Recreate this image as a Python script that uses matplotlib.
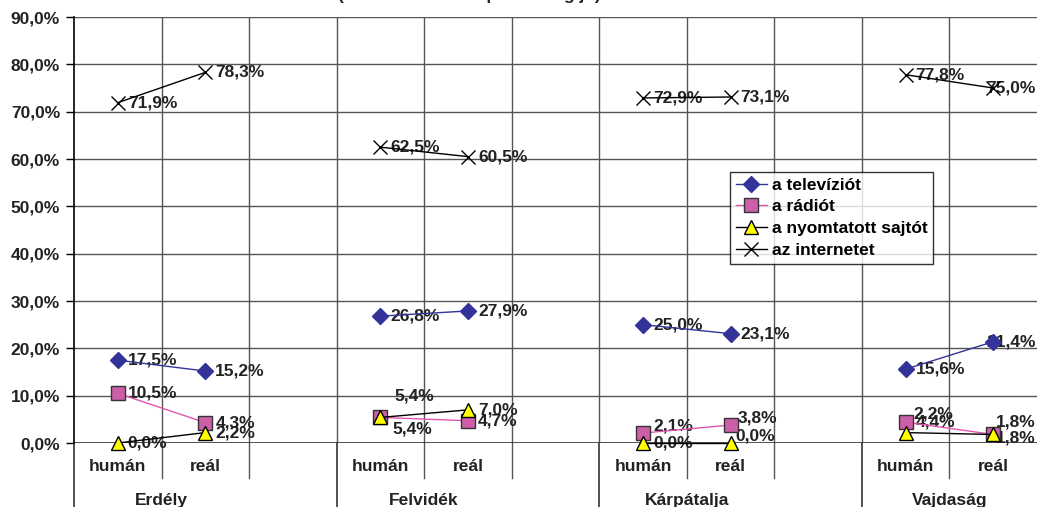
import matplotlib
matplotlib.use('Agg')
import matplotlib.pyplot as plt
import matplotlib.transforms as mtransforms

plt.rcParams['font.family'] = ['Liberation Sans', 'DejaVu Sans']
plt.rcParams['font.weight'] = 'bold'

# data
regions = ['Erdély', 'Felvidék', 'Kárpátalja', 'Vajdaság']
groups = ['humán', 'reál']
series_names = ['a televíziót', 'a rádiót', 'a nyomtatott sajtót', 'az internetet']
tv = [17.5, 15.2, 26.8, 27.9, 25.0, 23.1, 15.6, 21.4]
radio = [10.5, 4.3, 5.4, 4.7, 2.1, 3.8, 4.4, 1.8]
print_press = [0.0, 2.2, 5.4, 7.0, 0.0, 0.0, 2.2, 1.8]
internet = [71.9, 78.3, 62.5, 60.5, 72.9, 73.1, 77.8, 75.0]

series = [tv, radio, print_press, internet]
styles = [
    dict(color='#333399', marker='D', ms=8, mfc='#333399', mec='#333399', lw=1),
    dict(color='#E455AE', marker='s', ms=10, mfc='#CC5FA8', mec='#333333', lw=1, mew=1),
    dict(color='black', marker='^', ms=10, mfc='#FFFF00', mec='black', lw=1, mew=1),
    dict(color='black', marker='x', ms=10, lw=1, mew=1),
]
FS = 12.5
TXT = '#222222'

# x slot of each point: 3 slots per region (humán, reál, empty), last region has 2
xpos = []
for r in range(len(regions)):
    xpos += [3 * r, 3 * r + 1]

fig = plt.figure(figsize=(10.37, 5.07), dpi=100)
ax = fig.add_axes([74 / 1037, 1 - 443 / 507, 1 - 74 / 1037, 426 / 507])
ax.set_xlim(-0.5, 10.5)
ax.set_ylim(0, 90)

grid_c = '#555555'
for y in range(10, 91, 10):
    ax.axhline(y, color=grid_c, lw=1, zorder=1)
for b in [0.5, 1.5, 2.5, 3.5, 4.5, 5.5, 6.5, 7.5, 8.5, 9.5]:
    ax.axvline(b, color=grid_c, lw=1, zorder=1)
ax.axhline(0, color='#333333', lw=1.2, zorder=1)

for s in ['top', 'right', 'bottom']:
    ax.spines[s].set_visible(False)
ax.spines['left'].set_color('black')
ax.spines['left'].set_linewidth(1.2)

ax.set_yticks(range(0, 91, 10))
ax.set_yticklabels([f'{v:.1f}%'.replace('.', ',') for v in range(0, 91, 10)],
                   fontsize=FS, fontweight='bold', color=TXT)
ax.tick_params(axis='y', length=6, width=1, pad=4, color='black')
ax.set_xticks([])

# lines (only within a region)
handles = []
for vals, st in zip(series, styles):
    for r in range(len(regions)):
        h, = ax.plot(xpos[2 * r:2 * r + 2], vals[2 * r:2 * r + 2], zorder=4,
                     clip_on=False, **st)
    handles.append(h)

# data labels
special = {
    (1, 2): (14, 21), (2, 2): (12, -12),
    (1, 4): (10, 7), (1, 5): (7, 7), (2, 5): (5, 7),
    (2, 6): (8, 19),
}
right_edge = {(0, 7): 0, (3, 7): 0, (1, 7): 12, (2, 7): -4}
for si, vals in enumerate(series):
    for i, v in enumerate(vals):
        txt = f'{v:.1f}%'.replace('.', ',')
        if (si, i) in right_edge:
            ax.annotate(txt, xy=(10.5, v), xytext=(-1, right_edge[(si, i)]),
                        textcoords='offset pixels', ha='right', va='center',
                        fontsize=FS, fontweight='bold', color=TXT,
                        zorder=3, annotation_clip=False)
        else:
            dx, dy = special.get((si, i), (10, 0))
            ax.annotate(txt, xy=(xpos[i], v), xytext=(dx, dy),
                        textcoords='offset pixels', ha='left', va='center',
                        fontsize=FS, fontweight='bold', color=TXT,
                        zorder=3, annotation_clip=False)

# category axis below the plot
trans = mtransforms.blended_transform_factory(ax.transData, ax.transAxes)
for b in [0.5, 1.5, 3.5, 4.5, 6.5, 7.5, 9.5]:
    ax.plot([b, b], [0, -0.082], color=grid_c, lw=1, transform=trans, clip_on=False)
for b in [-0.5, 2.5, 5.5, 8.5]:
    ax.plot([b, b], [0, -0.2], color='#333333', lw=1.2, transform=trans, clip_on=False)
for x in xpos:
    ax.text(x, -0.056, groups[x % 3], transform=trans, ha='center', va='center',
            fontsize=FS, fontweight='bold', color=TXT)
for r, name in enumerate(regions):
    cx = 3 * r + 0.5 if r < 3 else 9.5
    ax.text(cx, -0.134, name, transform=trans, ha='center', va='center',
            fontsize=FS, fontweight='bold', color=TXT)

# legend
leg = ax.legend(handles, series_names, loc='upper left',
                bbox_to_anchor=(730 / 1037, 1 - 172 / 507), bbox_transform=fig.transFigure,
                fontsize=FS, frameon=True, fancybox=False, edgecolor='black',
                borderpad=0.32, labelspacing=0.38, handlelength=1.8, handletextpad=0.3,
                borderaxespad=0)
leg.get_frame().set_linewidth(1)
for t in leg.get_texts():
    t.set_fontweight('bold')
leg.set_zorder(6)

# title, almost entirely cut off by the top edge
fig.text(338 / 1037, 1.0, '(a tanulók szerint pontosság jó)', ha='left',
         va='baseline', fontsize=FS, fontweight='bold', color=TXT)

fig.savefig('out.png', dpi=100)
